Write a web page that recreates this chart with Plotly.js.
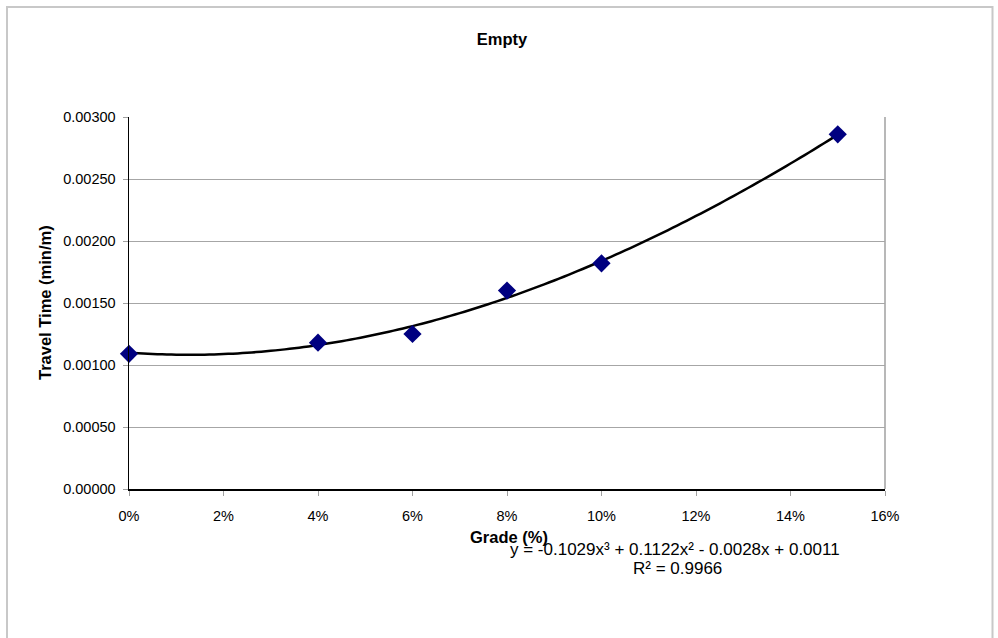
<!DOCTYPE html>
<html>
<head>
<meta charset="utf-8">
<script src="https://cdn.plot.ly/plotly-3.0.1.min.js"></script>
<style>
  html, body { margin: 0; padding: 0; background: #ffffff; }
  #chart { width: 998px; height: 638px; }
</style>
</head>
<body>
<div id="chart"></div>
<script>
// Measured travel time on an empty haul road at each grade
const grades = [0.00, 0.04, 0.06, 0.08, 0.10, 0.15];
const travelTimes = [0.00109, 0.00118, 0.00125, 0.00160, 0.00182, 0.00286];

// Cubic trendline coefficients (x³, x², x, constant) and fit quality
const trendCoef = [-0.1029, 0.1122, -0.0028, 0.0011];
const rSquared = 0.9966;

const chartTitle = 'Empty';
const xTitle = 'Grade (%)';
const yTitle = 'Travel Time (min/m)';

// Evaluate the trendline across the measured grade range
const trendX = [];
const trendY = [];
const steps = 150;
const xMin = Math.min(...grades), xMax = Math.max(...grades);
for (let i = 0; i <= steps; i++) {
  const x = xMin + (xMax - xMin) * i / steps;
  const y = trendCoef[0] * x * x * x + trendCoef[1] * x * x + trendCoef[2] * x + trendCoef[3];
  trendX.push(x);
  trendY.push(y);
}

function signed(v) {
  return (v < 0 ? ' - ' : ' + ') + Math.abs(v).toFixed(4);
}
const eqText = 'y = ' + trendCoef[0].toFixed(4) + 'x³' + signed(trendCoef[1]) + 'x²' +
  signed(trendCoef[2]) + 'x' + signed(trendCoef[3]);
const r2Text = 'R² = ' + rSquared.toFixed(4);

// Plot area geometry in pixels, used to place text and the outer frame
const W = 998, H = 638;
const plotL = 129, plotR = 885, plotT = 117, plotB = 489;
const pw = plotR - plotL, ph = plotB - plotT;
const px = v => (v - plotL) / pw;
const py = v => (plotB - v) / ph;

const FONT = '"Liberation Sans", Arial, Helvetica, sans-serif';

const traces = [
  {
    x: trendX, y: trendY,
    type: 'scatter', mode: 'lines',
    line: { color: '#000000', width: 2.5, simplify: false },
    hoverinfo: 'skip', showlegend: false
  },
  {
    x: grades, y: travelTimes,
    type: 'scatter', mode: 'markers',
    cliponaxis: false,
    marker: { symbol: 'diamond', size: 14, color: '#000080', line: { width: 0 } },
    showlegend: false
  }
];

const layout = {
  width: W, height: H,
  margin: { l: plotL, r: W - plotR, t: plotT, b: H - plotB, pad: 0 },
  paper_bgcolor: '#ffffff',
  plot_bgcolor: '#ffffff',
  font: { family: FONT, color: '#000000', size: 14.5 },
  showlegend: false,
  title: {
    text: '<b>' + chartTitle + '</b>',
    font: { family: FONT, size: 16.5, color: '#000000' },
    xref: 'container', yref: 'container',
    x: 502 / W, y: 1 - 39 / H,
    xanchor: 'center', yanchor: 'middle'
  },
  xaxis: {
    range: [0, 0.16],
    dtick: 0.02, tick0: 0,
    tickformat: '.0%',
    showgrid: false, zeroline: false,
    showline: true, linecolor: '#000000', linewidth: 1.5,
    ticks: 'outside', ticklen: 5, tickcolor: '#a0a0a0', tickwidth: 1,
    ticklabelstandoff: 8,
    tickfont: { family: FONT, size: 14.5, color: '#000000' },
    fixedrange: true
  },
  yaxis: {
    range: [0, 0.003],
    dtick: 0.0005, tick0: 0,
    tickformat: '.5f',
    showgrid: true, gridcolor: '#a6a6a6', gridwidth: 1,
    zeroline: false,
    showline: true, linecolor: '#000000', linewidth: 1.5,
    ticks: 'outside', ticklen: 5, tickcolor: '#a0a0a0', tickwidth: 1,
    ticklabelstandoff: 4,
    tickfont: { family: FONT, size: 14.5, color: '#000000' },
    fixedrange: true
  },
  shapes: [
    // outer chart frame
    {
      type: 'rect', xref: 'paper', yref: 'paper', layer: 'below',
      x0: px(7), x1: px(992.5), y0: py(648), y1: py(7),
      line: { color: '#c8c8c8', width: 2 }, fillcolor: 'rgba(0,0,0,0)'
    },
    // right edge of the plot area
    {
      type: 'line', xref: 'paper', yref: 'paper', layer: 'below',
      x0: 1, x1: 1, y0: 0, y1: 1,
      line: { color: '#a0a0a0', width: 1.5 }
    }
  ],
  annotations: [
    {
      text: '<b>' + xTitle + '</b>', xref: 'paper', yref: 'paper',
      x: px(509), y: py(537), xanchor: 'center', yanchor: 'middle',
      showarrow: false, font: { family: FONT, size: 16.5, color: '#000000' }
    },
    {
      text: '<b>' + yTitle + '</b>', xref: 'paper', yref: 'paper',
      x: px(45), y: py(303), xanchor: 'center', yanchor: 'middle',
      textangle: -90,
      showarrow: false, font: { family: FONT, size: 16.5, color: '#000000' }
    },
    {
      text: eqText, xref: 'paper', yref: 'paper',
      x: px(675), y: py(549), xanchor: 'center', yanchor: 'middle',
      showarrow: false, font: { family: FONT, size: 17, color: '#000000' }
    },
    {
      text: r2Text, xref: 'paper', yref: 'paper',
      x: px(677), y: py(568), xanchor: 'center', yanchor: 'middle',
      showarrow: false, font: { family: FONT, size: 17, color: '#000000' }
    }
  ]
};

Plotly.newPlot('chart', traces, layout, { displayModeBar: false, staticPlot: true });
</script>
</body>
</html>
